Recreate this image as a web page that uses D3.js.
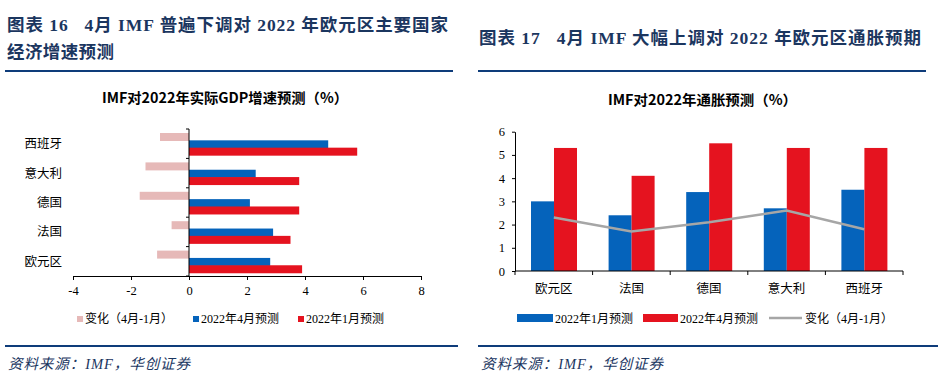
<!DOCTYPE html>
<html><head><meta charset="utf-8">
<script src="https://cdn.jsdelivr.net/npm/d3@7"></script>
<style>
html,body{margin:0;padding:0;background:#fff;}
svg{display:block;}
text{white-space:pre;}
</style></head>
<body>
<svg id="c" width="948" height="383"></svg>
<script>
// ---- data ----
const gdpCategories = ["西班牙", "意大利", "德国", "法国", "欧元区"];
const gdpChange = [-1.0, -1.5, -1.7, -0.6, -1.1];
const gdpApr = [4.8, 2.3, 2.1, 2.9, 2.8];
const gdpJan = [5.8, 3.8, 3.8, 3.5, 3.9];
const gdpTicks = [-4, -2, 0, 2, 4, 6, 8];
const gdpSeriesNames = ["变化（4月-1月）", "2022年4月预测", "2022年1月预测"];

const cpiCategories = ["欧元区", "法国", "德国", "意大利", "西班牙"];
const cpiJan = [3.0, 2.4, 3.4, 2.7, 3.5];
const cpiApr = [5.3, 4.1, 5.5, 5.3, 5.3];
const cpiChange = [2.3, 1.7, 2.1, 2.6, 1.8];
const cpiTicks = [0, 1, 2, 3, 4, 5, 6];
const cpiSeriesNames = ["2022年1月预测", "2022年4月预测", "变化（4月-1月）"];

const colBlue = "#0563BB", colRed = "#E5131F", colPink = "#E6B9B8", colGray = "#A6A6A6";
const navy = "#0E3C7A", titleCol = "#1B365F";
const serif = "'Liberation Serif','Times New Roman','Noto Sans CJK SC',serif";
const sans = "'Noto Sans CJK SC','Noto Sans',sans-serif";

const svg = d3.select("#c");

// ---- headers ----
function header(x, lines, lens, y0, lineX1, lineX2, footX2) {
  lines.forEach((t, i) => {
    svg.append("text").attr("x", x).attr("y", y0 + i * 27)
      .attr("font-family", serif).attr("font-weight", "bold").attr("font-size", 17.5)
      .attr("textLength", lens[i]).attr("lengthAdjust", "spacing")
      .attr("fill", titleCol).text(t);
  });
  svg.append("line").attr("x1", lineX1).attr("x2", lineX2).attr("y1", 71).attr("y2", 71)
    .attr("stroke", navy).attr("stroke-width", 2.2);
  svg.append("line").attr("x1", lineX1).attr("x2", footX2).attr("y1", 346).attr("y2", 346)
    .attr("stroke", navy).attr("stroke-width", 2.2);
  svg.append("text").attr("x", lineX1 + 3).attr("y", 369)
    .attr("font-family", serif).attr("font-style", "italic").attr("font-size", 14.5)
    .attr("textLength", 182).attr("lengthAdjust", "spacing")
    .attr("fill", titleCol).text("资料来源：IMF，华创证券");
}
header(7, ["图表 16   4月 IMF 普遍下调对 2022 年欧元区主要国家", "经济增速预测"], [441, 107], 31, 5, 453, 458);
header(479, ["图表 17   4月 IMF 大幅上调对 2022 年欧元区通胀预期"], [442], 44, 478, 926, 938);

// ---- left chart: GDP ----
{
  const g = svg.append("g");
  g.append("text").attr("x", 102).attr("y", 103)
    .attr("font-family", sans).attr("font-weight", "bold").attr("font-size", 14)
    .attr("textLength", 246).attr("lengthAdjust", "spacingAndGlyphs")
    .attr("fill", "#000").text("IMF对2022年实际GDP增速预测（%）");

  const x = d3.scaleLinear().domain([-4, 8]).range([73, 421]);
  const y = d3.scaleBand().domain(gdpCategories).range([129, 276]);
  const keys = ["chg", "apr", "jan"];
  const sub = d3.scaleBand().domain(keys).range([4, 26]);
  const rows = gdpCategories.map((c, i) => ({c, chg: gdpChange[i], apr: gdpApr[i], jan: gdpJan[i]}));
  const colors = {chg: colPink, apr: colBlue, jan: colRed};

  keys.forEach(k => {
    g.selectAll(null).data(rows).enter().append("rect")
      .attr("x", d => x(Math.min(0, d[k])))
      .attr("width", d => Math.abs(x(d[k]) - x(0)))
      .attr("y", d => y(d.c) + sub(k))
      .attr("height", 8)
      .attr("fill", colors[k]);
  });

  // x axis
  const xa = g.append("g").attr("transform", "translate(0,276)")
    .call(d3.axisBottom(x).tickValues(gdpTicks).tickSize(4).tickSizeOuter(0).tickFormat(d3.format("d")));
  xa.select(".domain").attr("stroke", "#000");
  xa.selectAll(".tick line").attr("stroke", "#000");
  xa.selectAll("text").attr("font-family", serif).attr("font-size", 12.5).attr("fill", "#000").attr("dy", "0.95em");
  xa.selectAll("text").text(d => d < 0 ? "-" + Math.abs(d) : d);

  // y axis (at x=0)
  g.append("line").attr("x1", x(0)).attr("x2", x(0)).attr("y1", 129).attr("y2", 276).attr("stroke", "#000");
  const bounds = gdpCategories.map(c => y(c)).concat([276]);
  g.selectAll(null).data(bounds).enter().append("line")
    .attr("x1", x(0) - 3).attr("x2", x(0)).attr("y1", d => d).attr("y2", d => d).attr("stroke", "#000");
  g.selectAll(null).data(gdpCategories).enter().append("text")
    .attr("x", 62).attr("y", d => y(d) + y.bandwidth() / 2 + 4.5).attr("text-anchor", "end")
    .attr("font-family", serif).attr("font-size", 12.5).attr("fill", "#000").text(d => d);

  // legend
  const leg = [{k: "chg", x: 77}, {k: "apr", x: 193}, {k: "jan", x: 298}];
  leg.forEach((l, i) => {
    g.append("rect").attr("x", l.x).attr("y", 316).attr("width", 6).attr("height", 6).attr("fill", colors[l.k]);
    g.append("text").attr("x", l.x + 8).attr("y", 323).attr("font-family", serif).attr("font-size", 12)
      .attr("fill", "#000").text(gdpSeriesNames[i]);
  });
}

// ---- right chart: CPI ----
{
  const g = svg.append("g");
  g.append("text").attr("x", 608).attr("y", 105)
    .attr("font-family", sans).attr("font-weight", "bold").attr("font-size", 14)
    .attr("textLength", 189).attr("lengthAdjust", "spacingAndGlyphs")
    .attr("fill", "#000").text("IMF对2022年通胀预测（%）");

  const x = d3.scaleBand().domain(cpiCategories).range([515, 903]);
  const y = d3.scaleLinear().domain([0, 6]).range([271, 131.7]);
  const sub = d3.scaleBand().domain(["jan", "apr"]).range([16, 62]);
  const rows = cpiCategories.map((c, i) => ({c, jan: cpiJan[i], apr: cpiApr[i], chg: cpiChange[i]}));
  const colors = {jan: colBlue, apr: colRed};

  ["jan", "apr"].forEach(k => {
    g.selectAll(null).data(rows).enter().append("rect")
      .attr("x", d => x(d.c) + sub(k))
      .attr("width", sub.bandwidth())
      .attr("y", d => y(d[k]))
      .attr("height", d => y(0) - y(d[k]))
      .attr("fill", colors[k]);
  });

  const line = d3.line().x(d => x(d.c) + x.bandwidth() / 2).y(d => y(d.chg));
  g.append("path").datum(rows).attr("d", line).attr("fill", "none")
    .attr("stroke", colGray).attr("stroke-width", 2.5);

  // y axis
  const ya = g.append("g").attr("transform", "translate(515,0)")
    .call(d3.axisLeft(y).tickValues(cpiTicks).tickSize(3).tickSizeOuter(0).tickFormat(d3.format("d")));
  ya.select(".domain").attr("stroke", "#000");
  ya.selectAll(".tick line").attr("stroke", "#000");
  ya.selectAll("text").attr("font-family", serif).attr("font-size", 12.5).attr("fill", "#000").attr("x", -10);

  // x axis
  g.append("line").attr("x1", 515).attr("x2", 903).attr("y1", 271).attr("y2", 271).attr("stroke", "#000");
  const bounds = cpiCategories.map(c => x(c)).concat([903]);
  g.selectAll(null).data(bounds).enter().append("line")
    .attr("x1", d => d).attr("x2", d => d).attr("y1", 271).attr("y2", 275).attr("stroke", "#000");
  g.selectAll(null).data(cpiCategories).enter().append("text")
    .attr("x", d => x(d) + x.bandwidth() / 2).attr("y", 292.5).attr("text-anchor", "middle")
    .attr("font-family", serif).attr("font-size", 12.5).attr("fill", "#000").text(d => d);

  // legend
  g.append("rect").attr("x", 517).attr("y", 314).attr("width", 36).attr("height", 8).attr("fill", colBlue);
  g.append("text").attr("x", 555).attr("y", 323).attr("font-family", serif).attr("font-size", 12).text(cpiSeriesNames[0]);
  g.append("rect").attr("x", 643).attr("y", 314).attr("width", 35).attr("height", 8).attr("fill", colRed);
  g.append("text").attr("x", 680).attr("y", 323).attr("font-family", serif).attr("font-size", 12).text(cpiSeriesNames[1]);
  g.append("line").attr("x1", 769).attr("x2", 802).attr("y1", 318).attr("y2", 318).attr("stroke", colGray).attr("stroke-width", 2.5);
  g.append("text").attr("x", 805).attr("y", 323).attr("font-family", serif).attr("font-size", 12).text(cpiSeriesNames[2]);
}
</script>
</body></html>
